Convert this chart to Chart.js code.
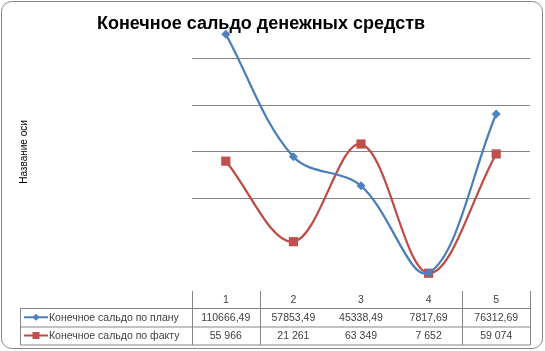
<!DOCTYPE html>
<html><head><meta charset="utf-8">
<script src="https://cdn.jsdelivr.net/npm/chart.js@4/dist/chart.umd.min.js"></script>
<style>html,body{margin:0;padding:0;background:#fff}canvas{display:block}</style>
</head><body>
<canvas id="c" width="545" height="351"></canvas>
<script>
const titleText = 'Конечное сальдо денежных средств';
const axisTitle = 'Название оси';
const categories = ['1', '2', '3', '4', '5'];
const seriesNames = ['Конечное сальдо по плану', 'Конечное сальдо по факту'];
const planValues = [110666.49, 57853.49, 45338.49, 7817.69, 76312.69];
const factValues = [55966, 21261, 63349, 7652, 59074];
const planLabels = ['110666,49', '57853,49', '45338,49', '7817,69', '76312,69'];
const factLabels = ['55 966', '21 261', '63 349', '7 652', '59 074'];

const BLUE_LINE = '#4A7EBB', BLUE_MARK = '#4F81BD';
const RED_LINE = '#BE4B48', RED_MARK = '#C0504D';
const GRID = '#868686';
const FONT = '"Liberation Sans", Arial, sans-serif';

const decor = {
  id: 'decor',
  afterDraw(chart) {
    const ctx = chart.ctx, ca = chart.chartArea, xs = chart.scales.x;
    ctx.save();
    // outer border
    ctx.strokeStyle = GRID; ctx.lineWidth = 1;
    ctx.beginPath(); ctx.roundRect(1.5, 1.5, 541, 347, 10); ctx.stroke();
    // title
    ctx.fillStyle = '#000';
    ctx.font = 'bold 18px ' + FONT;
    ctx.textAlign = 'center'; ctx.textBaseline = 'alphabetic';
    ctx.fillText(titleText, 261, 29);
    // axis title
    ctx.save();
    ctx.translate(24, 152); ctx.rotate(-Math.PI / 2);
    ctx.font = '10px ' + FONT; ctx.textBaseline = 'middle';
    ctx.fillText(axisTitle, 0, 0);
    ctx.restore();
    // data table
    const colW = (ca.right - ca.left) / categories.length;
    const top = ca.bottom, r1 = 308, r2 = 326.5, r3 = 344.5, leftX = 20.5;
    ctx.strokeStyle = GRID; ctx.lineWidth = 1;
    ctx.beginPath();
    [r1, r2, r3].forEach(y => { ctx.moveTo(leftX, y + 0.5); ctx.lineTo(ca.right, y + 0.5); });
    ctx.moveTo(leftX, r1); ctx.lineTo(leftX, r3 + 0.5);
    for (let i = 0; i <= categories.length; i++) {
      if (i === 2 || i === 3) continue;
      const x = Math.round(ca.left + i * colW) + 0.5;
      ctx.moveTo(x, top); ctx.lineTo(x, r3 + 0.5);
    }
    ctx.stroke();
    ctx.fillStyle = '#404040';
    ctx.font = '10.5px ' + FONT;
    ctx.textAlign = 'center'; ctx.textBaseline = 'middle';
    const yH = (top + r1) / 2 + 1, y1 = (r1 + r2) / 2 + 1, y2 = (r2 + r3) / 2 + 1;
    categories.forEach((c, i) => {
      const cx = xs.getPixelForValue(i);
      ctx.fillText(c, cx, yH);
      ctx.fillText(planLabels[i], cx, y1);
      ctx.fillText(factLabels[i], cx, y2);
    });
    ctx.textAlign = 'left';
    ctx.fillText(seriesNames[0], 49, y1);
    ctx.fillText(seriesNames[1], 49, y2);
    // legend keys
    ctx.lineWidth = 2;
    ctx.strokeStyle = BLUE_LINE;
    ctx.beginPath(); ctx.moveTo(24, y1 - 1); ctx.lineTo(48, y1 - 1); ctx.stroke();
    ctx.fillStyle = BLUE_MARK;
    ctx.beginPath(); ctx.moveTo(36, y1 - 4.5); ctx.lineTo(39.5, y1 - 1); ctx.lineTo(36, y1 + 2.5); ctx.lineTo(32.5, y1 - 1); ctx.closePath(); ctx.fill();
    ctx.strokeStyle = RED_LINE;
    ctx.beginPath(); ctx.moveTo(24, y2 - 1); ctx.lineTo(48, y2 - 1); ctx.stroke();
    ctx.fillStyle = RED_MARK;
    ctx.fillRect(32.5, y2 - 4.5, 7, 7);
    ctx.restore();
  }
};

new Chart(document.getElementById('c'), {
  type: 'line',
  data: {
    labels: categories,
    datasets: [
      { label: seriesNames[0], data: planValues, borderColor: BLUE_LINE, backgroundColor: BLUE_MARK,
        borderWidth: 2.25, pointStyle: 'rectRot', pointRadius: 4.5, pointBorderWidth: 0,
        pointBackgroundColor: BLUE_MARK, tension: 0.35, clip: false },
      { label: seriesNames[1], data: factValues, borderColor: RED_LINE, backgroundColor: RED_MARK,
        borderWidth: 2.25, pointStyle: 'rect', pointRadius: 6.5, pointBorderWidth: 0,
        pointBackgroundColor: RED_MARK, tension: 0.35, clip: false }
    ]
  },
  options: {
    responsive: false, animation: false, devicePixelRatio: 1,
    layout: { padding: { left: 192, right: 15, top: 12.6, bottom: 60 } },
    elements: { line: { capBezierPoints: false } },
    plugins: { legend: { display: false }, title: { display: false }, tooltip: { enabled: false } },
    scales: {
      x: { display: false, offset: true },
      y: {
        min: 0, max: 120000,
        ticks: { display: false, stepSize: 20000 },
        border: { display: false },
        grid: { drawTicks: false, color: c => (c.tick && c.tick.value >= 40000 && c.tick.value <= 100000) ? GRID : 'rgba(0,0,0,0)', lineWidth: 1 },
        afterFit: s => { s.width = 0; }
      }
    }
  },
  plugins: [decor]
});
</script>
</body></html>
